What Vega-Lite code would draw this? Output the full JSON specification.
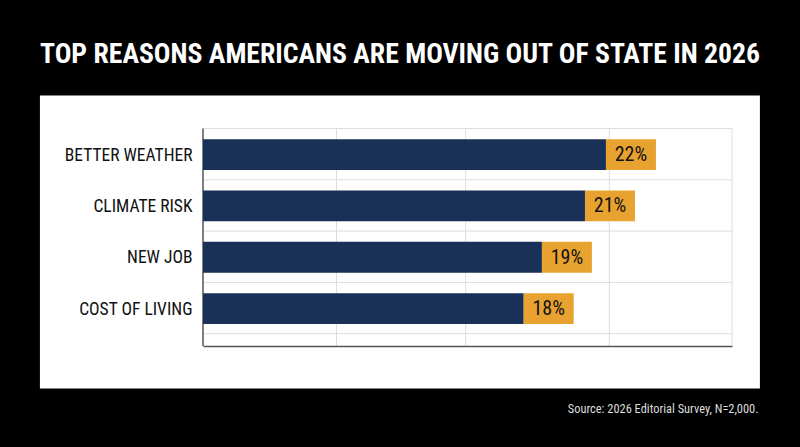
{
  "$schema": "https://vega.github.io/schema/vega-lite/v6.json",
  "autosize": "none",
  "width": 529,
  "height": 217.5,
  "padding": {"left": 203, "top": 128.5, "right": 68, "bottom": 101},
  "background": "#000000",
  "title": {
    "text": "TOP REASONS AMERICANS ARE MOVING OUT OF STATE IN 2026",
    "anchor": "middle",
    "dx": -67.5,
    "offset": 27,
    "color": "#ffffff",
    "font": "Roboto Condensed",
    "fontWeight": "bold",
    "fontSize": 27.7
  },
  "config": {"view": {"stroke": null}},
  "datasets": {
    "reasons": [
      {"reason": "BETTER WEATHER", "share": 22.09, "tab_end": 24.83, "label": "22%"},
      {"reason": "CLIMATE RISK", "share": 20.94, "tab_end": 23.68, "label": "21%"},
      {"reason": "NEW JOB", "share": 18.58, "tab_end": 21.32, "label": "19%"},
      {"reason": "COST OF LIVING", "share": 17.58, "tab_end": 20.32, "label": "18%"}
    ]
  },
  "layer": [
    {
      "data": {"values": [{"left": -8.94, "right": 30.53, "top": -33, "bottom": 260}]},
      "mark": {"type": "rect", "color": "#ffffff", "clip": false},
      "encoding": {
        "x": {"field": "left", "type": "quantitative", "scale": {"domain": [0, 29], "nice": false, "zero": false}},
        "x2": {"field": "right"},
        "y": {"field": "top", "type": "quantitative", "axis": null, "scale": {"domain": [0, 217.5], "range": [0, 217.5], "nice": false, "zero": false}},
        "y2": {"field": "bottom"}
      }
    },
    {
      "data": {"values": [{"v": 7.32}, {"v": 14.4}, {"v": 22.27}, {"v": 29}]},
      "mark": {"type": "rule", "color": "#dddddd", "strokeWidth": 1},
      "encoding": {
        "x": {
          "field": "v",
          "type": "quantitative",
          "axis": {
            "title": "Source: 2026 Editorial Survey, N=2,000.",
            "titleColor": "#dddddd",
            "titleFont": "Roboto Condensed",
            "titleFontWeight": "normal",
            "titleFontSize": 12.4,
            "titleAnchor": "end",
            "titleAlign": "right",
            "titleBaseline": "alphabetic",
            "titleX": 555,
            "titleY": 66,
            "labels": false,
            "ticks": false,
            "grid": false,
            "domainColor": "#555555",
            "domainWidth": 1.5,
            "zindex": 1
          }
        }
      }
    },
    {
      "data": {"values": [{"h": 0}, {"h": 51.3}, {"h": 102.6}, {"h": 153.9}, {"h": 205.2}]},
      "mark": {"type": "rule", "color": "#dddddd", "strokeWidth": 1},
      "encoding": {
        "y": {"field": "h", "type": "quantitative", "axis": null, "scale": {"domain": [0, 217.5], "range": [0, 217.5], "nice": false, "zero": false}}
      }
    },
    {
      "data": {"values": [{"v": 0}]},
      "mark": {"type": "rule", "color": "#555555", "strokeWidth": 1.5},
      "encoding": {"x": {"field": "v", "type": "quantitative"}}
    },
    {
      "data": {"name": "reasons"},
      "mark": {"type": "bar", "color": "#1a3157", "yOffset": 0.5},
      "encoding": {
        "x": {"field": "share", "type": "quantitative"},
        "y": {
          "field": "reason",
          "type": "nominal",
          "sort": null,
          "scale": {"range": [0, 205.2], "paddingInner": 0.4, "paddingOuter": 0.2},
          "axis": {
            "title": null,
            "ticks": false,
            "domain": false,
            "labelFont": "Roboto Condensed",
            "labelFontSize": 17.5,
            "labelColor": "#111111",
            "labelPadding": 11,
            "labelOffset": 1.5,
            "grid": false,
            "zindex": 1
          }
        }
      }
    },
    {
      "data": {"name": "reasons"},
      "mark": {"type": "rect", "color": "#e8a22f", "yOffset": 0.5},
      "encoding": {
        "x": {"field": "share", "type": "quantitative"},
        "x2": {"field": "tab_end"},
        "y": {
          "field": "reason",
          "type": "nominal",
          "sort": null,
          "axis": null,
          "scale": {"range": [0, 205.2], "paddingInner": 0.4, "paddingOuter": 0.2}
        }
      }
    },
    {
      "data": {"name": "reasons"},
      "mark": {"type": "text", "dx": 25, "dy": 1, "align": "center", "baseline": "middle", "color": "#111111", "font": "Roboto Condensed", "fontSize": 20},
      "encoding": {
        "x": {"field": "share", "type": "quantitative"},
        "y": {
          "field": "reason",
          "type": "nominal",
          "sort": null,
          "axis": null,
          "scale": {"range": [0, 205.2], "paddingInner": 0.4, "paddingOuter": 0.2}
        },
        "text": {"field": "label"}
      }
    }
  ],
  "resolve": {"scale": {"y": "independent"}, "axis": {"y": "independent"}}
}
